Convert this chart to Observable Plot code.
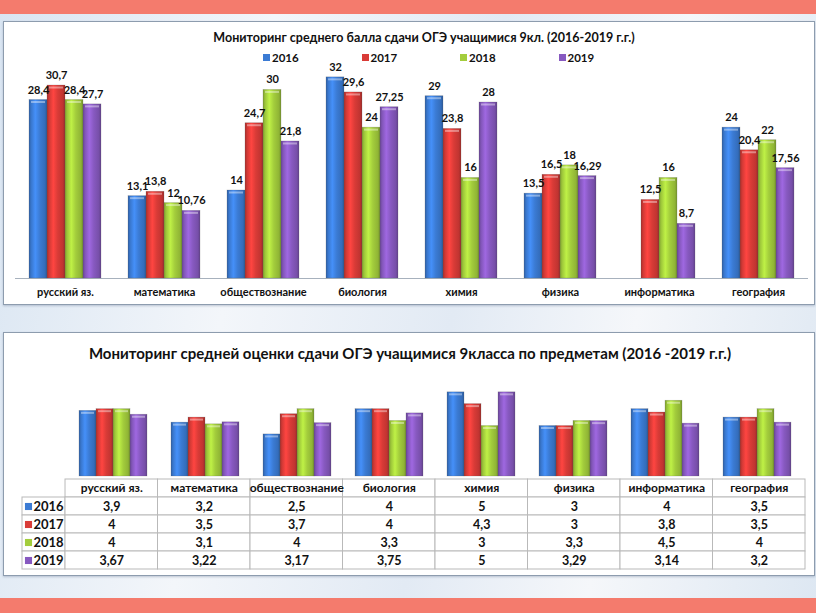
<!DOCTYPE html>
<html><head><meta charset="utf-8">
<script src="https://cdn.jsdelivr.net/npm/d3@7"></script>
<script src="https://cdn.jsdelivr.net/npm/@observablehq/plot@0.6"></script>
<style>
html,body{margin:0;padding:0}
body{width:816px;height:613px;position:relative;overflow:hidden;
 background:linear-gradient(100deg,#d9e5f2 0%,#f3f6fa 30%,#e2eaf4 55%,#f5f7fa 75%,#dde7f2 100%);
 font-family:Lato,"Open Sans","Noto Sans",sans-serif;font-weight:bold;color:#111}
.band{position:absolute;left:0;width:816px;background:#F47B6D}
.panel{position:absolute;left:3px;width:812px;background:#fff;border:1.5px solid #8d9cae;box-sizing:border-box;box-shadow:0 1px 2px rgba(90,110,140,.35)}
.title{position:absolute;left:0;width:816px;text-align:center;white-space:nowrap}
.legend{position:absolute;top:51px;left:263px;display:flex;font-size:11.5px}
.legend div{width:98.5px;display:flex;align-items:center}
.legend span.sw{display:inline-block;width:7px;height:7px;margin-right:2px}
.chart{position:absolute;left:0}
</style></head><body>
<svg width="0" height="0" style="position:absolute"><defs id="grads"></defs></svg>
<div class="band" style="top:0;height:14px"></div>
<div class="band" style="top:598px;height:15px"></div>
<div class="panel" style="top:21px;height:284px"></div>
<div class="panel" style="top:332px;height:244px"></div>
<div class="title" id="t1" style="top:30px;font-size:12.5px;padding-left:32px;box-sizing:border-box"></div>
<div class="legend" id="leg"></div>
<div class="title" id="t2" style="top:344px;font-size:15px;padding-left:4px;box-sizing:border-box"></div>
<div class="chart" id="c1" style="top:50px"></div>
<div class="chart" id="c2" style="top:370px"></div>
<div class="chart" id="c3" style="top:476px"></div>
<script>
const title1 = "Мониторинг среднего балла сдачи ОГЭ учащимися 9кл. (2016-2019 г.г.)";
const title2 = "Мониторинг средней оценки сдачи ОГЭ учащимися 9класса по предметам  (2016 -2019 г.г.)";
const subjects = ["русский яз.","математика","обществознание","биология","химия","физика","информатика","география"];
const years = ["2016","2017","2018","2019"];
const colors = ["#3b7bd4","#d93b37","#a3cd3c","#8759c0"];
// средний балл
const score2016 = [28.4, 13.1, 14, 32, 29, 13.5, null, 24];
const score2017 = [30.7, 13.8, 24.7, 29.6, 23.8, 16.5, 12.5, 20.4];
const score2018 = [28.4, 12, 30, 24, 16, 18, 16, 22];
const score2019 = [27.7, 10.76, 21.8, 27.25, 28, 16.29, 8.7, 17.56];
// средняя оценка
const grade2016 = [3.9, 3.2, 2.5, 4, 5, 3, 4, 3.5];
const grade2017 = [4, 3.5, 3.7, 4, 4.3, 3, 3.8, 3.5];
const grade2018 = [4, 3.1, 4, 3.3, 3, 3.3, 4.5, 4];
const grade2019 = [3.67, 3.22, 3.17, 3.75, 5, 3.29, 3.14, 3.2];

const scores = [score2016, score2017, score2018, score2019];
const grades = [grade2016, grade2017, grade2018, grade2019];
const fmt = v => String(v).replace(".", ",");

// gradients
const defs = d3.select("#grads");
colors.forEach((c, i) => {
  const g = defs.append("linearGradient").attr("id", "g" + i).attr("x1", 0).attr("x2", 1).attr("y1", 0).attr("y2", 0);
  const base = d3.color(c);
  [[0, base.darker(0.7)], [0.12, base.darker(0.1)], [0.35, base.brighter(0.45)], [0.6, base], [0.88, base.darker(0.35)], [1, base.darker(0.9)]]
    .forEach(([o, col]) => g.append("stop").attr("offset", o).attr("stop-color", col.formatHex()));
});
const gradUrls = colors.map((c, i) => `url(#g${i})`);

document.getElementById("t1").textContent = title1;
document.getElementById("t2").textContent = title2;
const leg = document.getElementById("leg");
years.forEach((y, i) => {
  const d = document.createElement("div");
  d.innerHTML = `<span class="sw" style="background:${colors[i]}"></span>${y}`;
  leg.appendChild(d);
});

const scoreRows = [];
subjects.forEach((s, j) => years.forEach((y, i) => {
  if (scores[i][j] != null) scoreRows.push({subject: s, year: y, value: scores[i][j]});
}));
const gradeRows = [];
subjects.forEach((s, j) => years.forEach((y, i) => gradeRows.push({subject: s, year: y, value: grades[i][j], col: j})));

const font = "Lato, 'Open Sans', 'Noto Sans', sans-serif";

const p1 = Plot.plot({
  width: 816, height: 253,
  marginTop: 8, marginBottom: 25, marginLeft: 15, marginRight: 8,
  fx: {domain: subjects, paddingInner: 0.27, paddingOuter: 0.14, axis: "bottom", tickSize: 0, tickPadding: 10, label: null},
  x: {domain: years, padding: 0, axis: null},
  y: {domain: [0, 35], axis: null},
  color: {domain: years, range: gradUrls},
  style: {background: "transparent", fontFamily: font, fontWeight: "bold", fontSize: "11px", color: "#111", overflow: "visible"},
  marks: [
    Plot.ruleY([0], {stroke: "#a7b1bd", strokeWidth: 1.2, insetLeft: -14, insetRight: -14}),
    Plot.barY(scoreRows, {fx: "subject", x: "year", y: "value", fill: "year", stroke: "#555", strokeOpacity: 0.35, strokeWidth: 0.6}),
    Plot.tickY(scoreRows, {fx: "subject", x: "year", y: "value", stroke: "white", strokeOpacity: 0.4, strokeWidth: 2, dy: 2, insetLeft: 2, insetRight: 2}),
    Plot.text(scoreRows, {fx: "subject", x: "year", y: "value", text: d => fmt(d.value), dy: -10, fontSize: 11, fontWeight: "bold", fill: "#111"})
  ]
});
document.getElementById("c1").appendChild(p1);

const p2 = Plot.plot({
  width: 816, height: 106,
  marginTop: 5, marginBottom: 0, marginLeft: 65, marginRight: 11,
  fx: {domain: subjects, paddingInner: 0.265, paddingOuter: 0.1325, axis: null},
  x: {domain: years, padding: 0, axis: null},
  y: {domain: [0, 6], axis: null},
  color: {domain: years, range: gradUrls},
  style: {background: "transparent", overflow: "visible"},
  marks: [
    Plot.barY(gradeRows, {fx: "subject", x: "year", y: "value", fill: "year", stroke: "#555", strokeOpacity: 0.35, strokeWidth: 0.6}),
    Plot.tickY(gradeRows, {fx: "subject", x: "year", y: "value", stroke: "white", strokeOpacity: 0.4, strokeWidth: 2, dy: 2, insetLeft: 2, insetRight: 2})
  ]
});
document.getElementById("c2").appendChild(p2);

const headCells = subjects.map((s, j) => ({subject: s, col: j, row: "head"}));
const rowHeads = years.map(y => ({year: y, row: y}));
const valueCells = gradeRows.map(d => ({...d, row: d.year}));

const p3 = Plot.plot({
  width: 816, height: 95,
  marginTop: 0.5, marginBottom: 0.5, marginLeft: 22, marginRight: 11,
  x: {domain: [-0.465, 8], axis: null},
  y: {domain: ["head", ...years], padding: 0, axis: null},
  color: {domain: years, range: colors},
  style: {background: "transparent", fontFamily: font, fontWeight: "bold", color: "#111", overflow: "visible"},
  marks: [
    Plot.barX(headCells, {x1: "col", x2: d => d.col + 1, y: "row", fill: "white", stroke: "#b9b9b9"}),
    Plot.barX(rowHeads, {x1: () => -0.465, x2: () => 0, y: "row", fill: "white", stroke: "#b9b9b9"}),
    Plot.barX(valueCells, {x1: "col", x2: d => d.col + 1, y: "row", fill: "white", stroke: "#b9b9b9"}),
    Plot.text(headCells, {x: d => d.col + 0.5, y: "row", text: "subject", fontSize: 12, fill: "#111"}),
    Plot.text(valueCells, {x: d => d.col + 0.5, y: "row", text: d => fmt(d.value), fontSize: 12.5, fill: "#111"}),
    Plot.dot(rowHeads, {x: () => -0.465, y: "row", dx: 6, symbol: "square", r: 4, fill: "year"}),
    Plot.text(rowHeads, {x: () => -0.465, y: "row", dx: 11, text: "year", textAnchor: "start", fontSize: 13, fill: "#111"})
  ]
});
document.getElementById("c3").appendChild(p3);
</script>
</body></html>
